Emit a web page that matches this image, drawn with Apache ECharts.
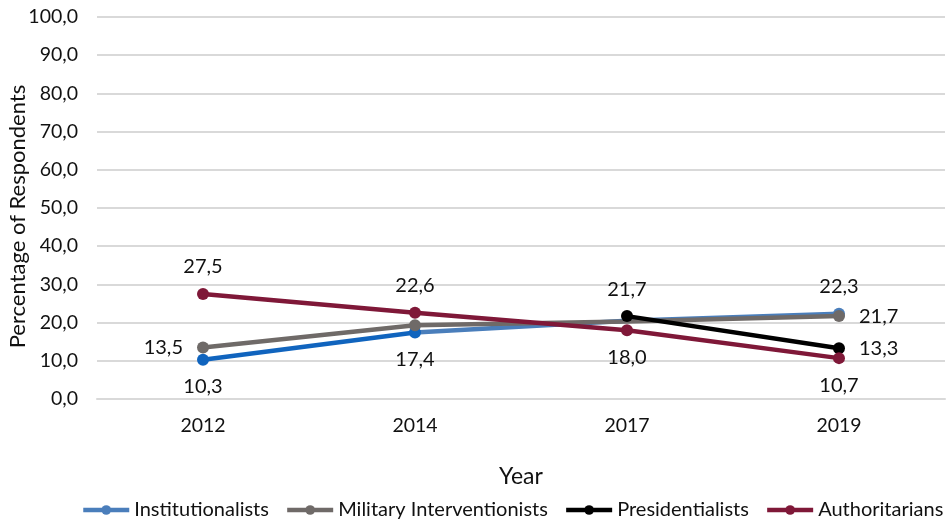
<!DOCTYPE html>
<html>
<head>
<meta charset="utf-8">
<script src="https://cdn.jsdelivr.net/npm/echarts@6/dist/echarts.min.js"></script>
<style>
  html, body { margin: 0; padding: 0; background: #fff; }
  #chart { width: 949px; height: 524px; }
</style>
</head>
<body>
<div id="chart"></div>
<script>
// Survey years and share of respondents (%) per group
const years = ['2012', '2014', '2017', '2019'];
const institutionalists = [10.3, 17.4, 20.5, 22.3];
const militaryInterventionists = [13.5, 19.3, 20.3, 21.7];
const presidentialists = [null, null, 21.7, 13.3];
const authoritarians = [27.5, 22.6, 18.0, 10.7];
const yTicks = [0, 10, 20, 30, 40, 50, 60, 70, 80, 90, 100];

const FONT = 'Lato';
const TEXT = '#111111';
const fmt = v => v.toFixed(1).replace('.', ',');

const COLORS = {
  instDark: '#1064be',
  instLight: '#4a7ebb',
  military: '#6f6a68',
  pres: '#000000',
  auth: '#7f1838'
};

// Build per-point data items; markers and labels only where listed.
// `keep` limits which points belong to the drawn segment.
function points(values, shown, labelPos, keep) {
  return values.map((v, i) => {
    if (v === null || (keep && !keep.includes(i))) return '-';
    const item = { value: v };
    if (!shown.includes(i)) item.symbol = 'none';
    const pos = labelPos[i];
    if (pos) {
      const side = pos === 'left' || pos === 'right';
      item.label = { show: true, position: pos, distance: side ? 14 : 11 };
    } else {
      item.label = { show: false };
    }
    return item;
  });
}

const labelBase = {
  fontFamily: FONT,
  fontSize: 20,
  color: TEXT,
  formatter: p => fmt(p.value)
};

function lineSeries(name, color, data, z) {
  return {
    name,
    type: 'line',
    data,
    z,
    symbol: 'circle',
    symbolSize: 12,
    showAllSymbol: true,
    connectNulls: false,
    lineStyle: { width: 4.5, color },
    itemStyle: { color },
    label: Object.assign({}, labelBase),
    emphasis: { disabled: true },
    animation: false
  };
}

const chart = echarts.init(document.getElementById('chart'), null, { renderer: 'canvas' });

chart.setOption({
  animation: false,
  textStyle: { fontFamily: FONT },
  grid: { left: 97, right: 4, top: 17, bottom: 125, containLabel: false, outerBoundsMode: 'none' },
  xAxis: {
    type: 'category',
    data: years,
    boundaryGap: true,
    name: 'Year',
    nameLocation: 'middle',
    nameGap: 66,
    nameTextStyle: { fontFamily: FONT, fontSize: 23, color: TEXT },
    axisLine: { show: true, lineStyle: { color: '#d9d9d9', width: 2 } },
    axisTick: { show: false },
    axisLabel: { fontFamily: FONT, fontSize: 19.5, color: TEXT, margin: 17 }
  },
  yAxis: {
    type: 'value',
    min: yTicks[0],
    max: yTicks[yTicks.length - 1],
    interval: yTicks[1] - yTicks[0],
    name: 'Percentage of Respondents',
    nameLocation: 'middle',
    nameRotate: 90,
    nameGap: 68,
    nameMoveOverlap: false,
    nameTextStyle: { fontFamily: FONT, fontSize: 22, color: TEXT, padding: [0, 17, 0, 0] },
    axisLine: { show: false },
    axisTick: { show: false },
    axisLabel: { fontFamily: FONT, fontSize: 19.5, color: TEXT, margin: 19, formatter: v => fmt(v) },
    splitLine: { lineStyle: { color: '#d9d9d9', width: 2 } }
  },
  legend: {
    top: 500,
    left: 81,
    width: 920,
    padding: 0,
    itemWidth: 46,
    itemHeight: 12,
    itemGap: 16,
    lineStyle: { width: 4.5 },
    textStyle: { fontFamily: FONT, fontSize: 20, color: TEXT },
    data: ['Institutionalists', 'Military Interventionists', 'Presidentialists', 'Authoritarians']
  },
  series: [
    // later segment of the institutionalist line (lighter blue)
    lineSeries('Institutionalists', COLORS.instLight,
      points(institutionalists, [3], [null, null, null, 'top'], [1, 2, 3]), 1),
    // first segment 2012–2014 in darker blue
    lineSeries('Institutionalists', COLORS.instDark,
      points(institutionalists, [0, 1], ['bottom', 'bottom', null, null], [0, 1]), 2),
    lineSeries('Military Interventionists', COLORS.military,
      points(militaryInterventionists, [0, 1, 3], ['left', null, null, 'right']), 3),
    lineSeries('Presidentialists', COLORS.pres,
      points(presidentialists, [2, 3], [null, null, 'top', 'right']), 4),
    lineSeries('Authoritarians', COLORS.auth,
      points(authoritarians, [0, 1, 2, 3], ['top', 'top', 'bottom', 'bottom']), 5)
  ]
});
</script>
</body>
</html>
